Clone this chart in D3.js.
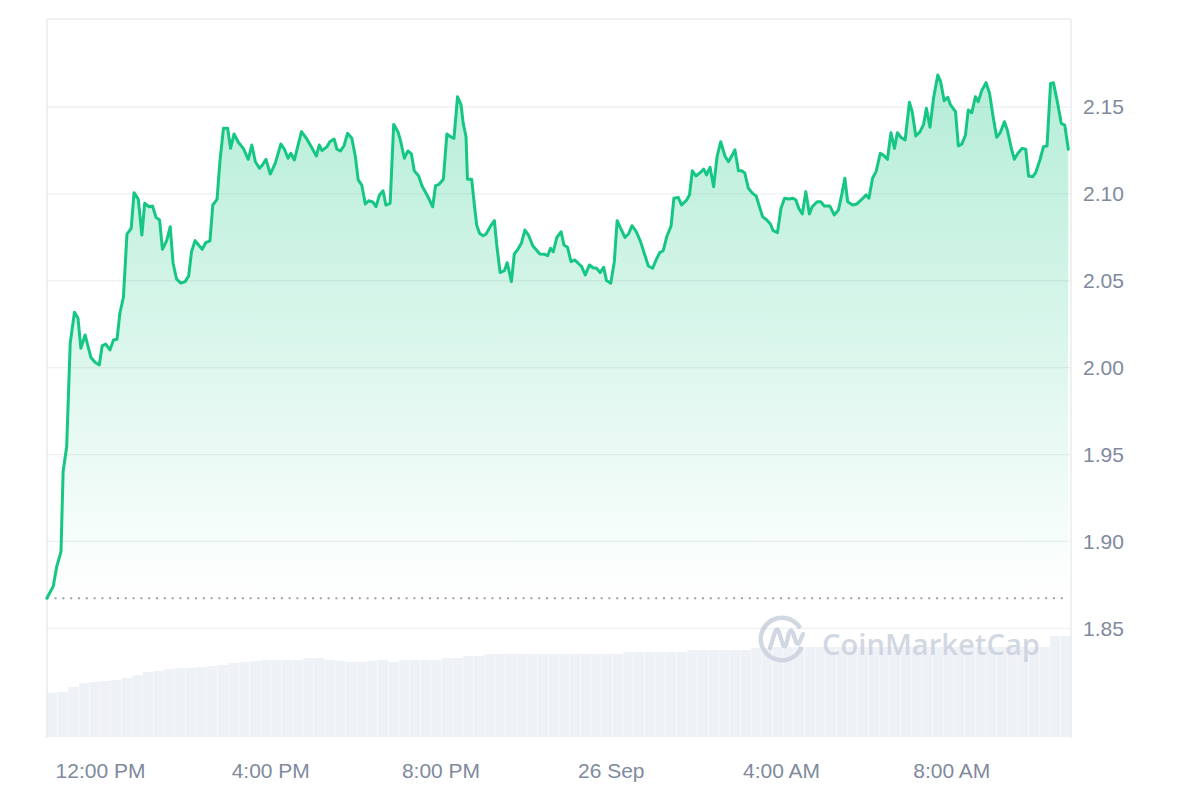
<!DOCTYPE html>
<html>
<head>
<meta charset="utf-8">
<script src="https://cdn.jsdelivr.net/npm/d3@7"></script>
<style>
  html, body { margin: 0; padding: 0; background: #ffffff; }
  svg { display: block; }
  .axis text { font-family: "Liberation Sans", Arial, sans-serif; font-size: 21px; fill: #808a9d; }
</style>
</head>
<body>
<svg id="chart" width="1200" height="800"></svg>
<script>
// ---------- DATA ----------
const startTime = "2024-09-25T10:45:00";
// minutes since start of the 24h window
const minutes = [0,9,14,20,23,28,33,39,44,48,54,62,68,74,78,83,89,94,99,103,108,113,119,123,129,134,138,144,149,154,159,163,169,174,178,183,189,195,200,204,209,214,219,224,230,234,240,244,249,255,259,264,270,277,284,289,294,300,304,309,315,322,330,335,340,344,349,359,366,374,380,384,388,395,399,405,409,414,419,424,430,435,439,444,449,454,460,464,469,474,478,484,489,495,499,504,509,514,518,524,529,536,544,548,553,559,564,569,574,579,584,587,591,593,599,603,606,610,615,619,625,631,634,639,645,649,655,659,664,669,674,679,685,689,695,702,706,710,714,719,725,729,734,739,744,749,754,759,765,770,775,780,785,789,795,800,804,809,815,820,825,831,837,843,848,854,859,864,869,874,880,884,890,895,902,906,910,915,921,926,930,935,940,945,950,956,961,967,970,975,980,984,989,995,1000,1009,1015,1020,1024,1030,1035,1040,1046,1052,1056,1060,1065,1070,1075,1079,1086,1091,1096,1104,1110,1116,1121,1125,1129,1136,1142,1148,1155,1159,1164,1169,1175,1179,1185,1190,1195,1199,1204,1210,1216,1220,1225,1231,1236,1240,1245,1250,1256,1260,1265,1270,1274,1281,1285,1290,1295,1299,1304,1309,1313,1318,1324,1329,1334,1339,1344,1350,1354,1360,1364,1369,1375,1380,1384,1390,1394,1400,1405,1410,1415,1419,1425,1430,1435,1440];
const prices = [1.8673,1.8740,1.8855,1.8941,1.9402,1.9545,2.0140,2.0319,2.0284,2.0112,2.0188,2.0060,2.0031,2.0015,2.0125,2.0136,2.0102,2.0159,2.0163,2.0313,2.0405,2.0769,2.0802,2.1007,2.0969,2.0763,2.0946,2.0926,2.0930,2.0865,2.0850,2.0681,2.0731,2.0811,2.0601,2.0509,2.0486,2.0495,2.0528,2.0667,2.0731,2.0706,2.0681,2.0719,2.0729,2.0936,2.0969,2.1185,2.1377,2.1377,2.1262,2.1345,2.1297,2.1262,2.1199,2.1281,2.1185,2.1147,2.1166,2.1199,2.1114,2.1176,2.1287,2.1257,2.1205,2.1234,2.1195,2.1358,2.1320,2.1262,2.1218,2.1281,2.1249,2.1272,2.1300,2.1316,2.1257,2.1247,2.1277,2.1349,2.1320,2.1214,2.1080,2.1051,2.0942,2.0961,2.0952,2.0926,2.0994,2.1018,2.0936,2.0946,2.1400,2.1358,2.1300,2.1205,2.1247,2.1230,2.1133,2.1105,2.1045,2.0994,2.0926,2.1047,2.1055,2.1084,2.1345,2.1329,2.1320,2.1559,2.1512,2.1406,2.1329,2.1084,2.1084,2.0926,2.0821,2.0773,2.0759,2.0768,2.0811,2.0846,2.0716,2.0547,2.0558,2.0604,2.0495,2.0654,2.0681,2.0716,2.0792,2.0763,2.0702,2.0683,2.0654,2.0652,2.0644,2.0687,2.0667,2.0750,2.0782,2.0706,2.0693,2.0610,2.0620,2.0601,2.0581,2.0533,2.0591,2.0575,2.0572,2.0547,2.0578,2.0501,2.0486,2.0610,2.0846,2.0802,2.0750,2.0769,2.0817,2.0782,2.0725,2.0648,2.0585,2.0572,2.0620,2.0662,2.0673,2.0754,2.0815,2.0975,2.0980,2.0936,2.0965,2.0994,2.1133,2.1103,2.1122,2.1143,2.1109,2.1153,2.1041,2.1218,2.1300,2.1218,2.1185,2.1230,2.1253,2.1133,2.1133,2.1119,2.1032,2.1003,2.0988,2.0869,2.0850,2.0827,2.0788,2.0777,2.0917,2.0975,2.0971,2.0975,2.0965,2.0917,2.0884,2.1013,2.0884,2.0926,2.0955,2.0955,2.0930,2.0930,2.0879,2.0907,2.1003,2.1090,2.0955,2.0936,2.0942,2.0965,2.0994,2.0975,2.1090,2.1128,2.1234,2.1224,2.1199,2.1352,2.1262,2.1352,2.1326,2.1310,2.1527,2.1473,2.1333,2.1358,2.1400,2.1493,2.1383,2.1550,2.1684,2.1646,2.1536,2.1556,2.1512,2.1473,2.1276,2.1287,2.1339,2.1483,2.1467,2.1559,2.1530,2.1594,2.1640,2.1579,2.1444,2.1326,2.1352,2.1415,2.1368,2.1257,2.1199,2.1234,2.1262,2.1257,2.1103,2.1099,2.1122,2.1195,2.1272,2.1276,2.1636,2.1640,2.1521,2.1406,2.1396,2.1257];
// 15-minute volume bars (relative units)
const volume = [44,45,50,54,55,56,57,59,62,65,66,68,69,69,70,71,72,74,75,76,77,77,77,77,79,79,77,76,75,75,76,77,75,77,77,77,77,79,79,81,81,83,83,83,83,83,83,83,83,83,83,83,83,83,85,85,85,85,85,85,87,87,87,87,87,87,89,89,90,90,90,90,90,90,90,90,90,90,90,90,90,90,90,90,90,90,90,90,90,90,90,90,90,90,101,101];
const yTicks = [1.85, 1.90, 1.95, 2.00, 2.05, 2.10, 2.15];
const xTickTimes = ["2024-09-25T12:00:00","2024-09-25T16:00:00","2024-09-25T20:00:00","2024-09-26T00:00:00","2024-09-26T04:00:00","2024-09-26T08:00:00"];
const xTickLabels = ["12:00 PM","4:00 PM","8:00 PM","26 Sep","4:00 AM","8:00 AM"];

// ---------- SETUP ----------
const svg = d3.select("#chart");
const t0 = new Date(startTime);
const n = Math.min(minutes.length, prices.length);
const data = d3.range(n).map(i => ({ t: new Date(t0.getTime() + minutes[i] * 60000), v: prices[i] }));
const basePrice = prices[0];

const plot = { left: 47, right: 1071, top: 19, bottom: 738 };
const x = d3.scaleTime()
  .domain([t0, new Date(t0.getTime() + 1440 * 60000)])
  .range([46.8, 1068.3]);
const y = d3.scaleLinear().domain([1.85, 2.15]).range([628.3, 107]);
const xb = d3.scaleBand().domain(d3.range(volume.length)).range([47, 1071]).paddingInner(0.04);
const yv = d3.scaleLinear().domain([0, d3.max(volume)]).range([737, 636]);

// gradient
const defs = svg.append("defs");
const grad = defs.append("linearGradient").attr("id", "areaGrad")
  .attr("gradientUnits", "userSpaceOnUse")
  .attr("x1", 0).attr("x2", 0)
  .attr("y1", y(d3.max(prices))).attr("y2", y(basePrice));
grad.append("stop").attr("offset", 0).attr("stop-color", "#16c784").attr("stop-opacity", 0.32);
grad.append("stop").attr("offset", 1).attr("stop-color", "#16c784").attr("stop-opacity", 0.0);

// volume bars
svg.append("g").selectAll("rect").data(volume).join("rect")
  .attr("x", (d, i) => xb(i))
  .attr("width", xb.bandwidth())
  .attr("y", d => yv(d))
  .attr("height", d => yv(0) - yv(d))
  .attr("fill", "#eef1f6");

// watermark
const wm = svg.append("g").attr("opacity", 0.85);
wm.append("path")
  .attr("transform", "translate(782,639)")
  .attr("d", d3.arc().innerRadius(19).outerRadius(23.5).startAngle(0.62 * Math.PI).endAngle(2.33 * Math.PI)())
  .attr("fill", "#cbd2de");
wm.append("path")
  .attr("d", "M770,648 L775,632 Q777,627 779,632 L783,645 Q784.5,648 786,645 L789,633 Q791,628 793,633 L796,642 Q798,646 800,641 L803,634")
  .attr("fill", "none").attr("stroke", "#cbd2de").attr("stroke-width", 4.2)
  .attr("stroke-linecap", "round").attr("stroke-linejoin", "round");
wm.append("text")
  .attr("x", 822).attr("y", 655)
  .attr("textLength", 218).attr("lengthAdjust", "spacingAndGlyphs")
  .style("font-family", "'Open Sans', 'Liberation Sans', Arial, sans-serif")
  .style("font-size", "29px").style("font-weight", 600)
  .attr("fill", "#cbd2de")
  .text("CoinMarketCap");

// area
const area = d3.area().x(d => x(d.t)).y0(y(basePrice)).y1(d => y(d.v));
svg.append("path").datum(data).attr("d", area).attr("fill", "url(#areaGrad)");

// gridlines
svg.append("g").selectAll("line").data(yTicks).join("line")
  .attr("x1", plot.left).attr("x2", plot.right)
  .attr("y1", d => y(d)).attr("y2", d => y(d))
  .attr("stroke", "rgba(120,130,150,0.11)").attr("stroke-width", 1.3);

// frame
const frame = svg.append("g").attr("stroke", "#e9ebee").attr("stroke-width", 1.5).attr("fill", "none");
frame.append("line").attr("x1", plot.left).attr("x2", plot.right).attr("y1", plot.top).attr("y2", plot.top);
frame.append("line").attr("x1", plot.left).attr("x2", plot.left).attr("y1", plot.top).attr("y2", plot.bottom);
frame.append("line").attr("x1", plot.right).attr("x2", plot.right).attr("y1", plot.top).attr("y2", plot.bottom);

// baseline dotted
svg.append("line")
  .attr("x1", x(t0)).attr("x2", 1068.3)
  .attr("y1", y(basePrice)).attr("y2", y(basePrice))
  .attr("stroke", "#9aa0ab").attr("stroke-width", 2)
  .attr("stroke-dasharray", "2 5.8");

// line
const line = d3.line().x(d => x(d.t)).y(d => y(d.v));
svg.append("path").datum(data).attr("d", line)
  .attr("fill", "none").attr("stroke", "#16c784").attr("stroke-width", 3)
  .attr("stroke-linejoin", "round").attr("stroke-linecap", "round");

// axes
const yAxis = d3.axisRight(y).tickValues(yTicks).tickFormat(d3.format(".2f")).tickSize(0).tickPadding(12);
svg.append("g").attr("class", "axis").attr("transform", `translate(${plot.right},0)`).call(yAxis)
  .call(g => g.select(".domain").remove());

const xAxis = d3.axisBottom(x)
  .tickValues(xTickTimes.map(s => new Date(s)))
  .tickFormat((d, i) => xTickLabels[i])
  .tickSize(0).tickPadding(8);
svg.append("g").attr("class", "axis").attr("transform", "translate(0,755)").call(xAxis)
  .call(g => g.select(".domain").remove());
</script>
</body>
</html>
